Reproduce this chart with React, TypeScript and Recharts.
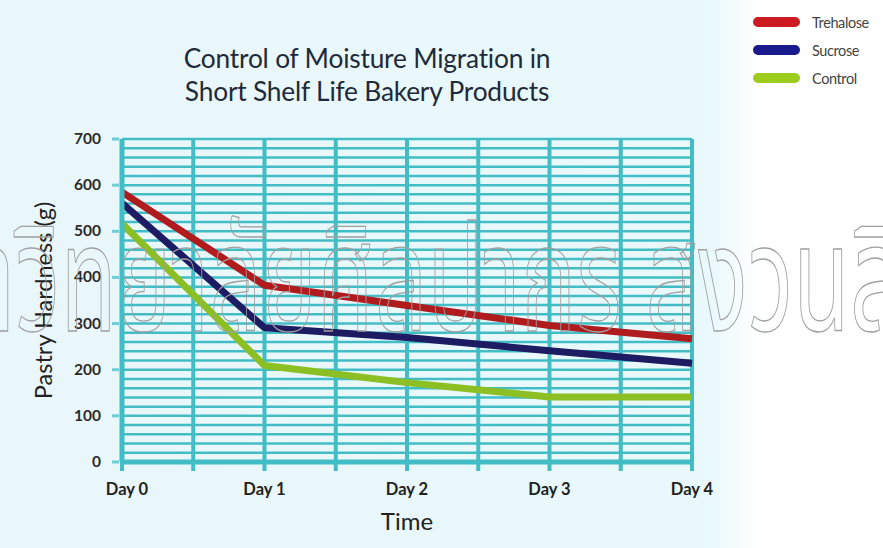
import React from 'react';
import { LineChart, Line, XAxis, YAxis, CartesianGrid } from 'recharts';

const days = [0, 1, 2, 3, 4];
const dayLabels = ['Day 0', 'Day 1', 'Day 2', 'Day 3', 'Day 4'];
const trehalose = [585, 383, 339, 296, 267];
const sucrose = [561, 291, 270, 241, 214];
const control = [517, 209, 172, 141, 141];
const xTicks = [0, 0.5, 1, 1.5, 2, 2.5, 3, 3.5, 4];
const yTicks = [0, 20, 40, 60, 80, 100, 120, 140, 160, 180, 200, 220, 240, 260, 280, 300, 320, 340, 360, 380, 400, 420, 440, 460, 480, 500, 520, 540, 560, 580, 600, 620, 640, 660, 680, 700];
const seriesNames = ['Trehalose', 'Sucrose', 'Control'];
const lineColors = ['#b01c1e', '#1d1b61', '#8cbf24'];
const legendColors = ['#cc1a22', '#1a1a8f', '#9ccc1c'];
const titleLines = ['Control of Moisture Migration in', 'Short Shelf Life Bakery Products'];
const watermark = 'มหาวิทยาลัยศิลปากร สงวนลิขสิทธิ์';

const data = days.map((d, i) => ({
  day: d,
  Trehalose: trehalose[i],
  Sucrose: sucrose[i],
  Control: control[i],
}));

const TEAL = '#42bdc6';
const FONT = 'Lato, "Open Sans", sans-serif';

const YTick = (props: any) => {
  const { x, y, payload } = props;
  if (payload.value % 100 !== 0) return <g />;
  return (
    <g>
      <line x1={x - 10} x2={x - 3} y1={y} y2={y} stroke="#6fcdd4" strokeWidth={3} />
      <text x={x - 21} y={y} dy={5} textAnchor="end" fontFamily={FONT} fontWeight={700} fontSize={15.5} fill="#2a2a2a">
        {payload.value}
      </text>
    </g>
  );
};

const XTick = (props: any) => {
  const { x, y, payload } = props;
  if (!Number.isInteger(payload.value)) return <g />;
  return (
    <text x={x + (payload.value === 0 ? 5 : 0)} y={y} dy={24} textAnchor="middle" fontFamily={FONT} fontWeight={700} fontSize={16.5} fill="#222">
      {dayLabels[payload.value]}
    </text>
  );
};

export default function App() {
  return (
    <div
      style={{
        position: 'absolute',
        left: 0,
        top: 0,
        width: 883,
        height: 548,
        overflow: 'hidden',
        background: 'linear-gradient(to right, #eaf7fa 0%, #e8f8fb 80%, #ffffff 86%, #ffffff 100%)',
      }}
    >
      <div
        style={{
          position: 'absolute',
          left: 367 - 250,
          top: 42,
          width: 500,
          textAlign: 'center',
          fontFamily: FONT,
          fontSize: 26.3,
          lineHeight: '33px',
          color: '#1e2a3a',
          letterSpacing: -0.2,
        }}
      >
        {titleLines.map((t) => (
          <div key={t}>{t}</div>
        ))}
      </div>
      <div style={{ position: 'absolute', left: 753, top: 13, display: 'flex', flexDirection: 'column', gap: 10 }}>
        {seriesNames.map((n, i) => (
          <div key={n} style={{ display: 'flex', alignItems: 'center', height: 18 }}>
            <div style={{ width: 47, height: 10, borderRadius: 5, background: legendColors[i], marginRight: 12 }} />
            <span style={{ fontFamily: FONT, fontSize: 14.5, color: '#444', letterSpacing: -0.4 }}>{n}</span>
          </div>
        ))}
      </div>
      <LineChart width={883} height={548} data={data} margin={{ top: 139, right: 191, bottom: 16, left: 0 }} style={{ position: 'absolute', left: 0, top: 0 }}>
        <CartesianGrid horizontal={true} vertical={false} stroke={TEAL} strokeWidth={2.5} />
        <CartesianGrid horizontal={false} vertical={true} stroke={TEAL} strokeWidth={4} />
        <XAxis
          dataKey="day"
          type="number"
          domain={[0, 4]}
          ticks={xTicks}
          interval={0}
          height={70}
          tickSize={9}
          tickMargin={0}
          axisLine={{ stroke: TEAL, strokeWidth: 5 }}
          tickLine={{ stroke: TEAL, strokeWidth: 4 }}
          tick={<XTick />}
          label={{ value: 'Time', position: 'insideBottom', offset: 2, style: { fontFamily: FONT, fontSize: 24, fill: '#222' } }}
        />
        <YAxis
          type="number"
          domain={[0, 700]}
          ticks={yTicks}
          interval={0}
          width={122}
          tickSize={0}
          tickMargin={0}
          axisLine={{ stroke: TEAL, strokeWidth: 5 }}
          tickLine={false}
          tick={<YTick />}
          label={{
            value: 'Pastry Hardness (g)',
            angle: -90,
            position: 'insideLeft',
            offset: 44,
            style: { textAnchor: 'middle', fontFamily: FONT, fontSize: 23.5, fill: '#222' },
          }}
        />
        {seriesNames.map((n, i) => (
          <Line
            key={n}
            type="linear"
            dataKey={n}
            stroke={lineColors[i]}
            strokeWidth={7}
            dot={false}
            activeDot={false}
            strokeLinejoin="round"
            isAnimationActive={false}
          />
        ))}
      </LineChart>
      <svg width={883} height={548} style={{ position: 'absolute', left: 0, top: 0, pointerEvents: 'none' }}>
        <g transform="scale(0.62,1)">
          <text
            x={-215}
            y={331}
            fontSize={149}
            fill="none"
            stroke="#a0a0a0"
            strokeWidth={1.3}
            fontFamily='"Noto Sans Thai", "Noto Serif Thai", "DejaVu Sans", sans-serif'
          >
            {watermark}
          </text>
        </g>
      </svg>
    </div>
  );
}
